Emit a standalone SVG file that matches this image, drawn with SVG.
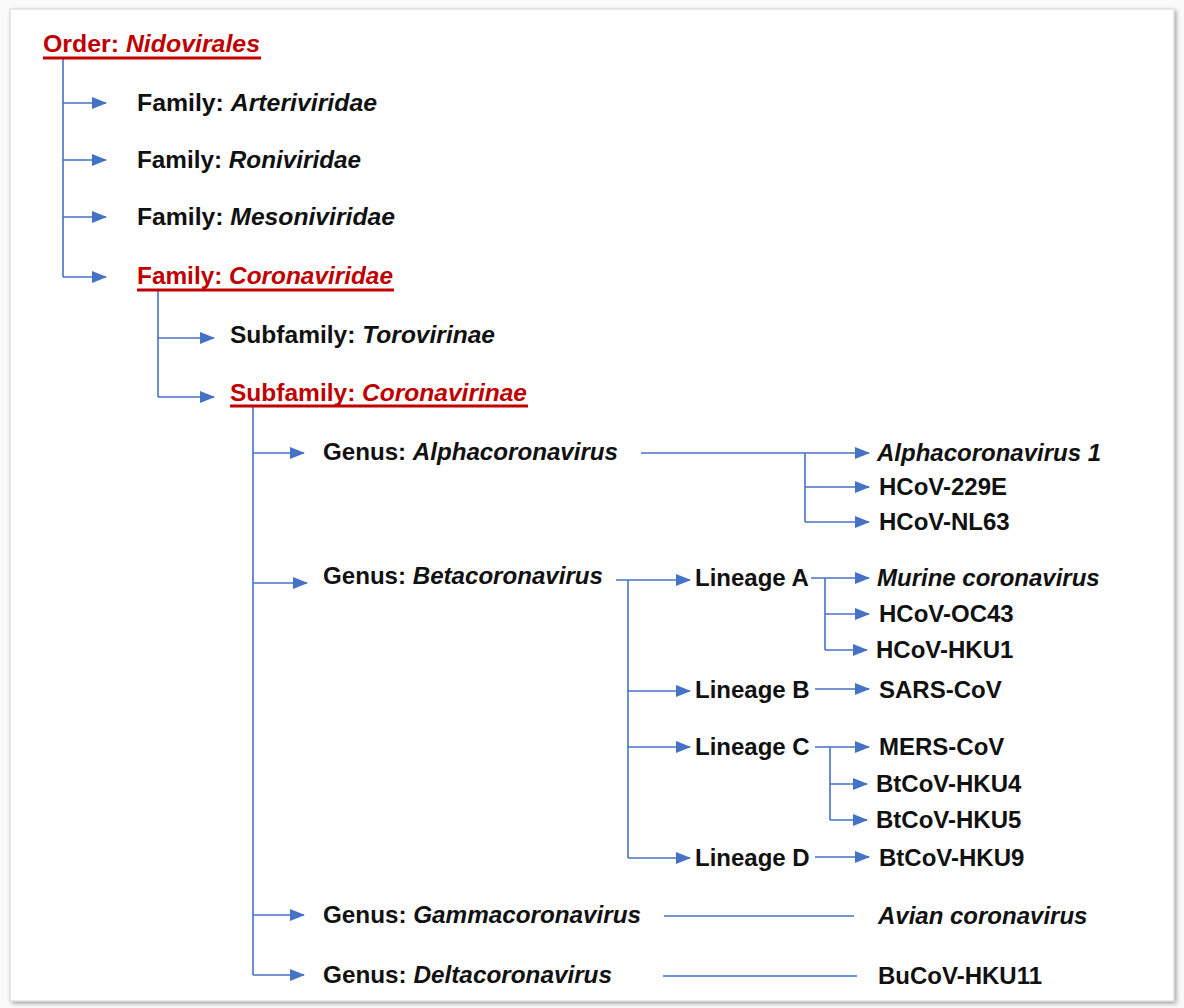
<svg xmlns="http://www.w3.org/2000/svg" width="1184" height="1008" viewBox="0 0 1184 1008">
<style>
.t{font-family:"Liberation Sans",Arial,sans-serif;font-weight:bold;font-size:24px;fill:#111111}
.r{fill:#C00000}
.i{font-style:italic}
.c{fill:none;stroke:#4472C4;stroke-width:1.6}
.a{marker-end:url(#ah)}
.u{stroke:#C00000;stroke-width:2.8}
</style>
<defs>
<marker id="ah" markerUnits="userSpaceOnUse" markerWidth="15" markerHeight="12" refX="14" refY="6" orient="auto">
<path d="M0,0 L15,6 L0,12 Z" fill="#4472C4"/>
</marker>
<filter id="sh" x="-5%" y="-5%" width="110%" height="110%">
<feDropShadow dx="2" dy="2" stdDeviation="2" flood-color="#000" flood-opacity="0.35"/>
</filter>
</defs>
<rect x="0" y="0" width="1184" height="1008" fill="#fafafa"/>
<rect x="10" y="9" width="1164" height="992" fill="#ffffff" stroke="#d4d4d4" stroke-width="1" filter="url(#sh)"/>

<g id="connectors">
<path class="c" d="M63,58 V277"/>
<path class="c a" d="M63,103 H106"/>
<path class="c a" d="M63,160 H106"/>
<path class="c a" d="M63,217 H106"/>
<path class="c a" d="M63,277 H106"/>
<path class="c" d="M158,291 V397"/>
<path class="c a" d="M158,338 H214"/>
<path class="c a" d="M158,397 H214"/>
<path class="c" d="M253,407 V975"/>
<path class="c a" d="M253,453 H304"/>
<path class="c a" d="M253,583 H307"/>
<path class="c a" d="M253,915 H304"/>
<path class="c a" d="M253,975 H304"/>
<path class="c a" d="M641,453 H869"/>
<path class="c" d="M805,453 V522"/>
<path class="c a" d="M805,487 H869"/>
<path class="c a" d="M805,522 H869"/>
<path class="c a" d="M616,580 H690"/>
<path class="c" d="M628,580 V858"/>
<path class="c a" d="M628,691 H690"/>
<path class="c a" d="M628,747 H690"/>
<path class="c a" d="M628,858 H690"/>
<path class="c a" d="M811,578 H869"/>
<path class="c" d="M825,578 V650"/>
<path class="c a" d="M825,614 H869"/>
<path class="c a" d="M825,650 H867"/>
<path class="c a" d="M815,689 H869"/>
<path class="c a" d="M815,747 H869"/>
<path class="c" d="M830,747 V820"/>
<path class="c a" d="M830,784 H867"/>
<path class="c a" d="M830,820 H867"/>
<path class="c a" d="M815,857 H869"/>
<path class="c" d="M664,916 H854"/>
<path class="c" d="M663,976 H857"/>
</g>

<g id="order"><text class="t r" x="43" y="52" textLength="217" lengthAdjust="spacingAndGlyphs">Order: <tspan class="i">Nidovirales</tspan></text><line class="u" x1="43" y1="58" x2="261" y2="58"/></g>
<g id="arteriviridae"><text class="t" x="137" y="111" textLength="240" lengthAdjust="spacingAndGlyphs">Family: <tspan class="i">Arteriviridae</tspan></text></g>
<g id="roniviridae"><text class="t" x="137" y="168" textLength="224" lengthAdjust="spacingAndGlyphs">Family: <tspan class="i">Roniviridae</tspan></text></g>
<g id="mesoniviridae"><text class="t" x="137" y="225" textLength="258" lengthAdjust="spacingAndGlyphs">Family: <tspan class="i">Mesoniviridae</tspan></text></g>
<g id="coronaviridae"><text class="t r" x="137" y="284" textLength="256" lengthAdjust="spacingAndGlyphs">Family: <tspan class="i">Coronaviridae</tspan></text><line class="u" x1="137" y1="290" x2="394" y2="290"/></g>
<g id="torovirinae"><text class="t" x="230" y="343" textLength="265" lengthAdjust="spacingAndGlyphs">Subfamily: <tspan class="i">Torovirinae</tspan></text></g>
<g id="coronavirinae"><text class="t r" x="230" y="401" textLength="297" lengthAdjust="spacingAndGlyphs">Subfamily: <tspan class="i">Coronavirinae</tspan></text><line class="u" x1="230" y1="406" x2="528" y2="406"/></g>
<g id="alphacoronavirus"><text class="t" x="323" y="460" textLength="295" lengthAdjust="spacingAndGlyphs">Genus: <tspan class="i">Alphacoronavirus</tspan></text></g>
<g id="betacoronavirus"><text class="t" x="323" y="584" textLength="280" lengthAdjust="spacingAndGlyphs">Genus: <tspan class="i">Betacoronavirus</tspan></text></g>
<g id="gammacoronavirus"><text class="t" x="323" y="923" textLength="318" lengthAdjust="spacingAndGlyphs">Genus: <tspan class="i">Gammacoronavirus</tspan></text></g>
<g id="deltacoronavirus"><text class="t" x="323" y="983" textLength="289" lengthAdjust="spacingAndGlyphs">Genus: <tspan class="i">Deltacoronavirus</tspan></text></g>
<g id="alphacoronavirus1"><text class="t i" x="877" y="461">Alphacoronavirus 1</text></g>
<g id="hcov229e"><text class="t" x="879" y="495">HCoV-229E</text></g>
<g id="hcovnl63"><text class="t" x="879" y="530">HCoV-NL63</text></g>
<g id="lineageA"><text class="t" x="695" y="586">Lineage A</text></g>
<g id="murine"><text class="t i" x="877" y="586">Murine coronavirus</text></g>
<g id="hcovoc43"><text class="t" x="879" y="622">HCoV-OC43</text></g>
<g id="hcovhku1"><text class="t" x="876" y="658">HCoV-HKU1</text></g>
<g id="lineageB"><text class="t" x="695" y="698">Lineage B</text></g>
<g id="sarscov"><text class="t" x="879" y="698">SARS-CoV</text></g>
<g id="lineageC"><text class="t" x="695" y="755">Lineage C</text></g>
<g id="merscov"><text class="t" x="879" y="755">MERS-CoV</text></g>
<g id="btcovhku4"><text class="t" x="876" y="792">BtCoV-HKU4</text></g>
<g id="btcovhku5"><text class="t" x="876" y="828">BtCoV-HKU5</text></g>
<g id="lineageD"><text class="t" x="695" y="866">Lineage D</text></g>
<g id="btcovhku9"><text class="t" x="879" y="866">BtCoV-HKU9</text></g>
<g id="avian"><text class="t i" x="878" y="924">Avian coronavirus</text></g>
<g id="bucovhku11"><text class="t" x="878" y="984">BuCoV-HKU11</text></g>
</svg>
